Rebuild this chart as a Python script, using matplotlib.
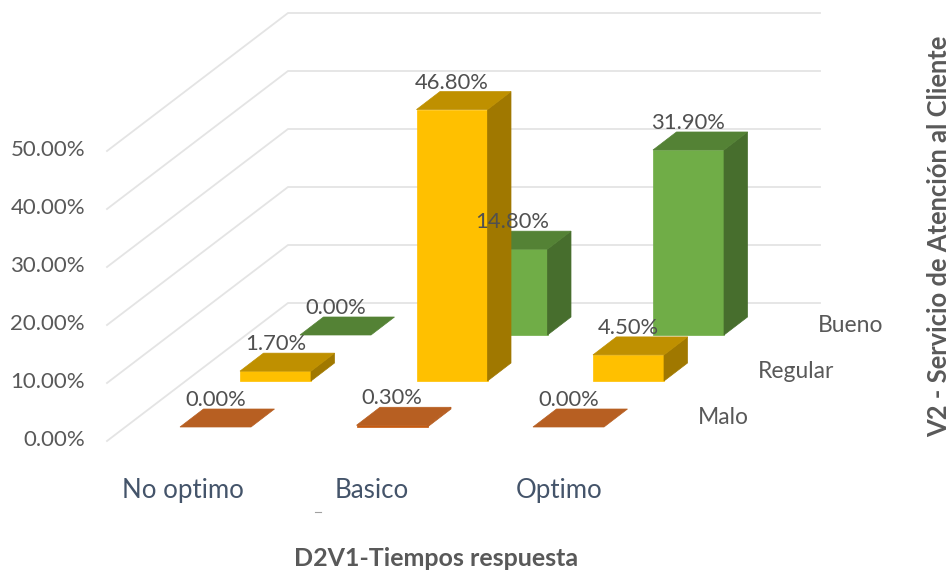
import matplotlib
matplotlib.use("Agg")
import matplotlib.pyplot as plt

plt.rcParams['font.family'] = ['Lato', 'DejaVu Sans']

# Datos
categorias = ["No optimo", "Basico", "Optimo"]
series = ["Malo", "Regular", "Bueno"]
malo = [0.0, 0.3, 0.0]
regular = [1.7, 46.8, 4.5]
bueno = [0.0, 14.8, 31.9]
ticks_y = [0, 10, 20, 30, 40, 50]

# Colores (frente, arriba, lado)
colores = {
    "Malo": ("#C55A11", "#B75F22", "#B75F22"),
    "Regular": ("#FFC000", "#BF9000", "#A07800"),
    "Bueno": ("#70AD47", "#548235", "#476E2D"),
}
gris_texto = "#595959"
gris_linea = "#E4E4E4"

# Geometria de la proyeccion oblicua, en pixeles de la figura
px_por_pct = 5.8
x_cat0, paso_cat = 180, 176.5
paso_x_serie, paso_y_serie = 60, 46
y_base0 = 427
ancho = 71
fondo_dx, fondo_dy = 23.5, 18


def barra(ax, i, j, valor, col):
    x = x_cat0 + i * paso_cat + j * paso_x_serie
    y0 = y_base0 - j * paso_y_serie
    y1 = y0 - valor * px_por_pct
    frente, arriba, lado = col
    if valor > 0:
        ax.fill([x, x + ancho, x + ancho, x], [y0, y0, y1, y1],
                color=frente, lw=0.5, zorder=3 + j * -0.1)
        ax.fill([x + ancho, x + ancho + fondo_dx, x + ancho + fondo_dx, x + ancho],
                [y0, y0 - fondo_dy, y1 - fondo_dy, y1],
                color=lado, lw=0.5, zorder=3 + j * -0.1)
    ax.fill([x, x + ancho, x + ancho + fondo_dx, x + fondo_dx],
            [y1, y1, y1 - fondo_dy, y1 - fondo_dy],
            color=arriba, lw=0.5, zorder=3 + j * -0.1)
    ax.text(x + ancho / 2, y1 - 27, f"{valor:.2f}%", ha='center', va='center',
            fontsize=15.8, color="#505050", zorder=6)


fig = plt.figure(figsize=(9.52, 5.72), dpi=100)
ax = fig.add_axes([0, 0, 1, 1])
ax.set_xlim(0, 952)
ax.set_ylim(572, 0)
ax.axis('off')

# Rejilla: pared del fondo y suelo/lateral
for t in ticks_y:
    y_frente = 441 - t * px_por_pct
    y_atras = 303 - t * px_por_pct
    ax.plot([107, 288, 820], [y_frente, y_atras, y_atras], color=gris_linea,
            lw=1.3, zorder=1, solid_joinstyle='miter')
    ax.text(85, y_frente - 0.5, f"{t:.2f}%", ha='right', va='center',
            fontsize=16, color=gris_texto)

# Barras, de atras hacia adelante
valores = [malo, regular, bueno]
for j in [2, 1, 0]:
    for i in range(len(categorias)):
        barra(ax, i, j, valores[j][i], colores[series[j]])

# Etiquetas de categoria y de serie
pos_cat = [182.5, 371.5, 559]
for c, x in zip(categorias, pos_cat):
    ax.text(x, 490.5, c, ha='center', va='center', fontsize=18.6, color="#44546A")
pos_serie = [(723.5, 417), (796, 372), (850.5, 326)]
for s, (x, y) in zip(series, pos_serie):
    ax.text(x, y, s, ha='center', va='center', fontsize=16.5, color=gris_texto)

ax.plot([315, 321], [512, 512], color="#A0A0A0", lw=0.8)

ax.text(436.5, 558, "D2V1-Tiempos respuesta", ha='center', va='center',
        fontsize=18, fontweight='bold', color=gris_texto)
ax.text(939, 236, "V2 - Servicio de Atención al Cliente", ha='center', va='center',
        rotation=90, fontsize=18.4, fontweight='bold', color=gris_texto)

fig.savefig("out.png", dpi=100)
